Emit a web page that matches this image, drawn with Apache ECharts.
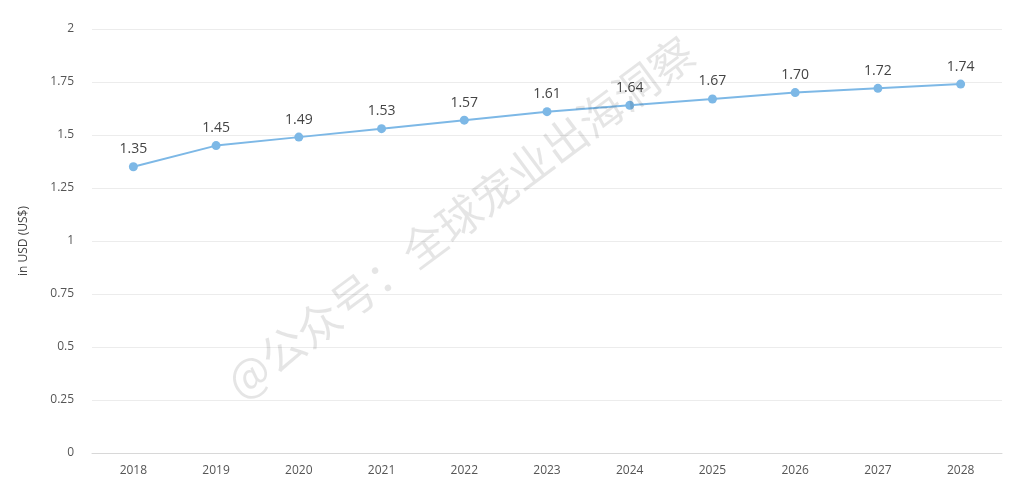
<!DOCTYPE html>
<html><head><meta charset="utf-8">
<script src="https://cdn.jsdelivr.net/npm/echarts@6/dist/echarts.min.js"></script>
<style>html,body{margin:0;padding:0;background:#fff}#c{width:1023px;height:486px}</style>
</head><body><div id="c"></div>
<script>
const categories = ['2018','2019','2020','2021','2022','2023','2024','2025','2026','2027','2028'];
const values = [1.35,1.45,1.49,1.53,1.57,1.61,1.64,1.67,1.70,1.72,1.74];
const labels = ['1.35','1.45','1.49','1.53','1.57','1.61','1.64','1.67','1.70','1.72','1.74'];
const yTicks = ['0','0.25','0.5','0.75','1','1.25','1.5','1.75','2'];
const chart = echarts.init(document.getElementById('c'));
chart.setOption({
  animation:false,
  grid:{left:92,right:21,top:29,bottom:33},
  xAxis:{type:'category',data:categories,boundaryGap:true,
    axisLine:{lineStyle:{color:'#d8d8d8'}},axisTick:{show:false},
    axisLabel:{color:'#555',fontSize:12,margin:12,fontFamily:'Open Sans'}},
  yAxis:{type:'value',min:0,max:2,interval:0.25,
    name:'in USD (US$)',nameLocation:'middle',nameGap:62,nameRotate:90,
    nameTextStyle:{color:'#444',fontSize:12,fontFamily:'Open Sans'},
    axisLine:{show:false},axisTick:{show:false},
    axisLabel:{color:'#555',fontSize:12,margin:18,fontFamily:'Open Sans',formatter:v=>yTicks[Math.round(v/0.25)]},
    splitLine:{lineStyle:{color:'#ececec'}}},
  series:[{type:'line',data:values,symbol:'circle',symbolSize:9,
    lineStyle:{color:'#7db8e6',width:2},itemStyle:{color:'#7db8e6'},
    label:{show:true,position:'top',distance:6,color:'#444',fontSize:14,fontFamily:'Open Sans',
      formatter:p=>labels[p.dataIndex]}}],
  graphic:[{type:'text',x:245,y:405,rotation:0.64,silent:true,z:100,
    style:{text:'@公众号：全球宠业出海洞察',fill:'rgba(0,0,0,0.10)',font:'44px "Noto Sans CJK SC"',textVerticalAlign:'bottom'}}]
});
</script></body></html>
